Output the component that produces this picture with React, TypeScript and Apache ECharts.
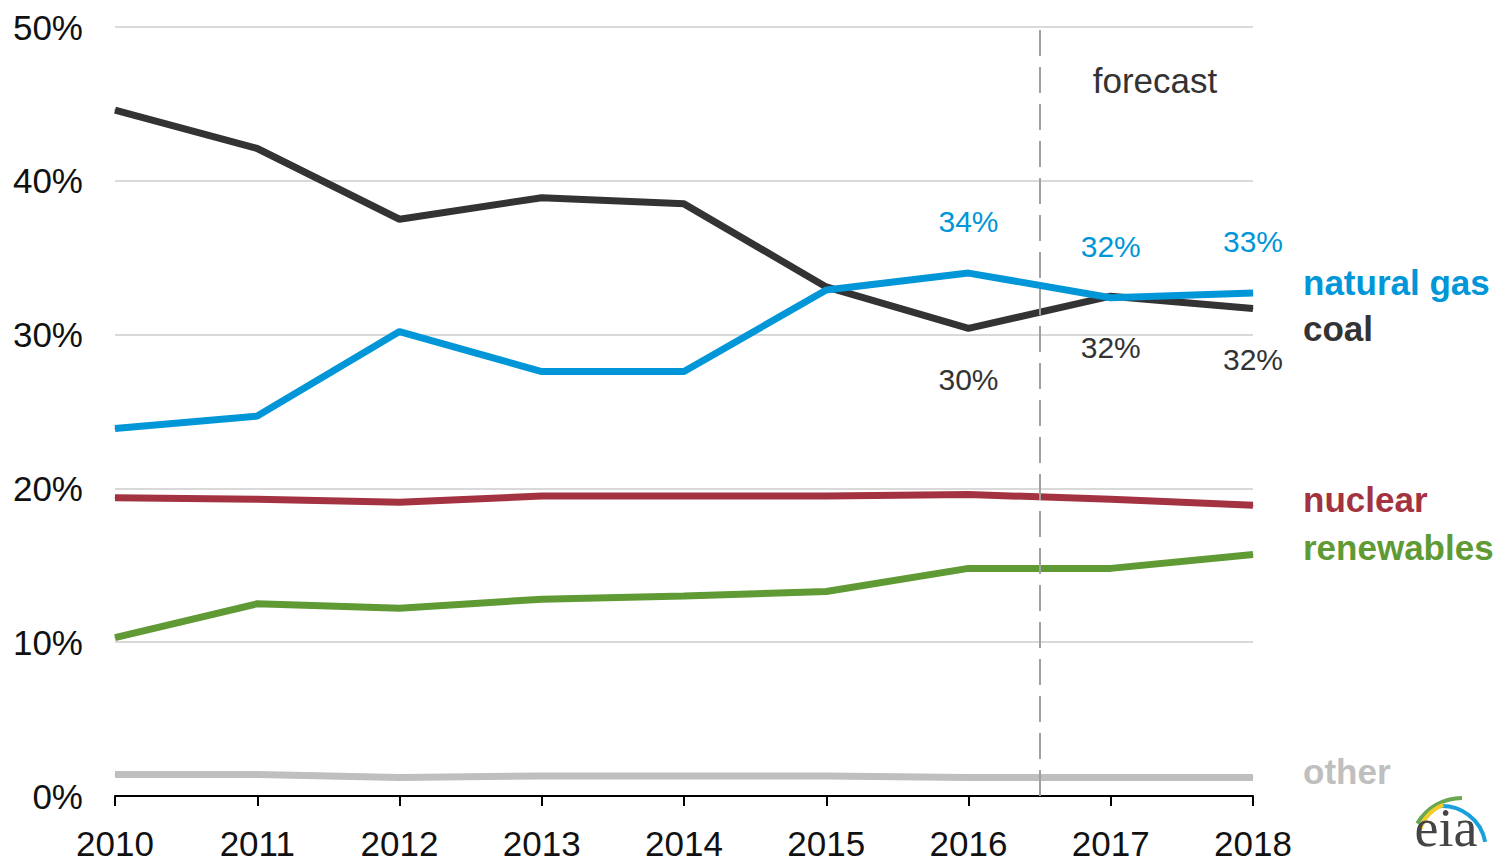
import React, { useEffect, useRef } from "react";
import * as echarts from "echarts";

const years = [2010, 2011, 2012, 2013, 2014, 2015, 2016, 2017, 2018];
const coal = [44.6, 42.1, 37.5, 38.9, 38.5, 33.1, 30.4, 32.5, 31.7];
const gas = [23.9, 24.7, 30.2, 27.6, 27.6, 32.9, 34.0, 32.4, 32.7];
const nuclear = [19.4, 19.3, 19.1, 19.5, 19.5, 19.5, 19.6, 19.3, 18.9];
const renewables = [10.3, 12.5, 12.2, 12.8, 13.0, 13.3, 14.8, 14.8, 15.7];
const other = [1.4, 1.4, 1.2, 1.3, 1.3, 1.3, 1.2, 1.2, 1.2];
const gasLabels = ["", "", "", "", "", "", "34%", "32%", "33%"];
const coalLabels = ["", "", "", "", "", "", "30%", "32%", "32%"];
const yTicks = [0, 10, 20, 30, 40, 50];

const FONT = "'Liberation Sans', Arial, sans-serif";

const C_GAS = "#0096d7";
const C_COAL = "#333333";
const C_NUC = "#a33340";
const C_REN = "#5f9a35";
const C_OTH = "#bfbfbf";

function mkData(vals: number[], labels?: string[], pos?: string) {
  return vals.map((v, i) => {
    const item: any = { value: [years[i], v] };
    if (labels && labels[i]) {
      item.label = {
        show: true,
        position: pos,
        distance: 36,
        formatter: labels[i],
      };
    }
    return item;
  });
}

function lineSeries(name: string, vals: number[], color: string, endText: string, offY: number, labels?: string[], pos?: string, z = 2) {
  return {
    type: "line",
    name,
    z,
    data: mkData(vals, labels, pos),
    showSymbol: true,
    symbol: "circle",
    symbolSize: 1,
    itemStyle: { color },
    lineStyle: { color, width: 7 },
    label: {
      show: false,
      fontFamily: FONT,
      fontSize: 30,
      color,
    },
    endLabel: {
      show: true,
      formatter: endText,
      fontFamily: FONT,
      fontSize: 35,
      fontWeight: "bold",
      color,
      distance: 5,
      offset: [45, offY],
    },
  };
}

export default function App() {
  const ref = useRef<HTMLDivElement>(null);
  useEffect(() => {
    if (!ref.current) return;
    const chart = echarts.init(ref.current, undefined, { renderer: "svg" });
    chart.setOption({
      animation: false,
      backgroundColor: "#ffffff",
      grid: { left: 115, right: 252, top: 27, bottom: 70, containLabel: false },
      xAxis: {
        type: "value",
        min: 2010,
        max: 2018,
        interval: 1,
        axisLine: { show: true, lineStyle: { color: "#000", width: 2 } },
        axisTick: { show: true, inside: false, length: 10, lineStyle: { color: "#000", width: 2 } },
        splitLine: { show: false },
        axisLabel: {
          fontFamily: FONT,
          fontSize: 35,
          color: "#111",
          margin: 30,
          formatter: (v: number) => String(v),
        },
      },
      yAxis: {
        type: "value",
        min: yTicks[0],
        max: yTicks[yTicks.length - 1],
        interval: 10,
        axisLine: { show: false },
        axisTick: { show: false },
        splitLine: { show: true, lineStyle: { color: "#d9d9d9", width: 2 } },
        axisLabel: {
          fontFamily: FONT,
          fontSize: 35,
          color: "#111",
          margin: 32,
          formatter: (v: number) => v + "%",
        },
      },
      series: [
        lineSeries("other", other, C_OTH, "other", -6),
        lineSeries("renewables", renewables, C_REN, "renewables", -7),
        lineSeries("nuclear", nuclear, C_NUC, "nuclear", -6),
        lineSeries("coal", coal, C_COAL, "coal", 20, coalLabels, "bottom", 3),
        {
          ...lineSeries("natural gas", gas, C_GAS, "natural gas", -11, gasLabels, "top", 4),
          markLine: {
            silent: true,
            symbol: "none",
            label: { show: false },
            lineStyle: { color: "#a0a0a0", width: 2, type: [26, 11] },
            data: [{ xAxis: 2016.5 }],
          },
        },
      ],
      graphic: [
        {
          type: "text",
          x: 1155,
          y: 80,
          style: {
            text: "forecast",
            font: "35px " + FONT,
            fill: "#333",
            textAlign: "center",
            textVerticalAlign: "middle",
          },
        },
        {
          type: "group",
          children: [
            {
              type: "arc",
              shape: { cx: 1442, cy: 850, r: 44, startAngle: -Math.PI * 0.53, endAngle: -Math.PI * 0.06 },
              style: { stroke: "#1aa0dc", lineWidth: 4, fill: "none" },
            },
            {
              type: "arc",
              shape: { cx: 1462, cy: 850, r: 52, startAngle: -Math.PI * 0.83, endAngle: -Math.PI * 0.5 },
              style: { stroke: "#6aa84f", lineWidth: 4, fill: "none" },
            },
            {
              type: "arc",
              shape: { cx: 1458, cy: 842, r: 40, startAngle: -Math.PI * 0.9, endAngle: -Math.PI * 0.62 },
              style: { stroke: "#f4cc2a", lineWidth: 4, fill: "none" },
            },
            {
              type: "text",
              x: 1446,
              y: 855,
              style: {
                text: "eia",
                font: "54px 'Liberation Serif', serif",
                fill: "#444",
                textAlign: "center",
                textVerticalAlign: "bottom",
              },
            },
          ],
        },
      ],
    });
    return () => chart.dispose();
  }, []);
  return <div ref={ref} style={{ position: "fixed", left: 0, top: 0, width: 1505, height: 866 }} />;
}
